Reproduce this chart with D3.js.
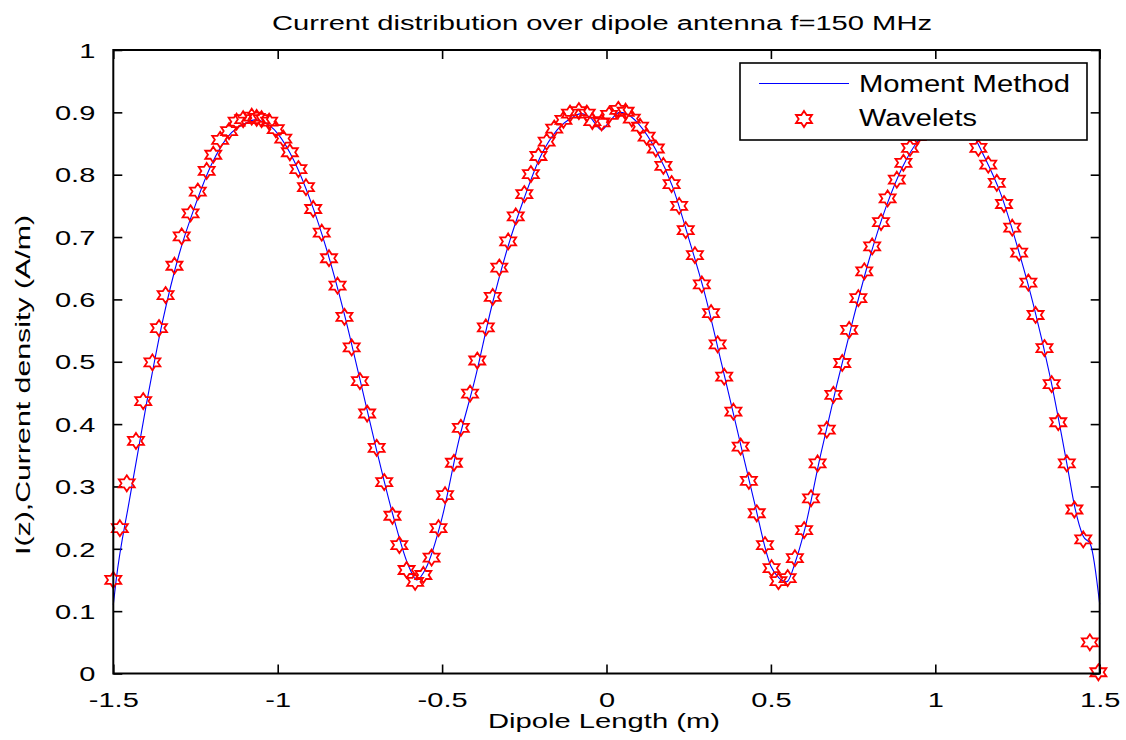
<!DOCTYPE html>
<html>
<head>
<meta charset="utf-8">
<script src="https://cdn.jsdelivr.net/npm/d3@7/dist/d3.min.js"></script>
<style>
  html, body { margin: 0; padding: 0; background: #ffffff; }
  svg { display: block; }
  text { font-family: "Liberation Sans", Arial, sans-serif; fill: #000; }
</style>
</head>
<body>
<svg id="chart" width="1126" height="740"></svg>
<script>
// ---- Data ----
const titleText = "Current distribution over dipole antenna f=150 MHz";
const xLabelText = "Dipole Length (m)";
const yLabelText = "I(z),Current density (A/m)";
const seriesNames = ["Moment Method", "Wavelets"];

const xTicks = [-1.5, -1, -0.5, 0, 0.5, 1, 1.5];
const xTickLabels = ["-1.5", "-1", "-0.5", "0", "0.5", "1", "1.5"];
const yTicks = [0, 0.1, 0.2, 0.3, 0.4, 0.5, 0.6, 0.7, 0.8, 0.9, 1];
const yTickLabels = ["0", "0.1", "0.2", "0.3", "0.4", "0.5", "0.6", "0.7", "0.8", "0.9", "1"];

// Moment Method (blue line)
const momX = [-1.500, -1.492, -1.451, -1.400, -1.350, -1.300, -1.250, -1.200, -1.150, -1.100,
  -1.070, -1.050, -1.000, -0.950, -0.900, -0.850, -0.800, -0.750, -0.700, -0.650,
  -0.600, -0.577, -0.550, -0.500, -0.450, -0.400, -0.350, -0.300, -0.250, -0.200,
  -0.150, -0.100, -0.078, -0.050, -0.015, 0.010, 0.040, 0.075, 0.100, 0.150,
  0.200, 0.250, 0.300, 0.350, 0.400, 0.450, 0.500, 0.525, 0.548, 0.575,
  0.600, 0.650, 0.700, 0.750, 0.800, 0.850, 0.900, 0.950, 1.000, 1.050,
  1.075, 1.100, 1.150, 1.200, 1.250, 1.300, 1.350, 1.400, 1.425, 1.450,
  1.472, 1.500];
const momY = [0.110, 0.147, 0.278, 0.430, 0.565, 0.672, 0.752, 0.818, 0.862, 0.882,
  0.888, 0.886, 0.866, 0.822, 0.758, 0.678, 0.582, 0.472, 0.360, 0.255,
  0.170, 0.150, 0.168, 0.250, 0.372, 0.472, 0.587, 0.684, 0.763, 0.830,
  0.872, 0.893, 0.898, 0.892, 0.872, 0.886, 0.900, 0.893, 0.880, 0.840,
  0.782, 0.698, 0.607, 0.497, 0.385, 0.274, 0.172, 0.153, 0.147, 0.180,
  0.225, 0.348, 0.462, 0.568, 0.666, 0.748, 0.812, 0.856, 0.880, 0.888,
  0.887, 0.876, 0.828, 0.768, 0.684, 0.588, 0.474, 0.337, 0.265, 0.220,
  0.207, 0.111];

// Wavelets (red hexagram markers)
const waveX = [-1.500, -1.480, -1.459, -1.431, -1.409, -1.381, -1.361, -1.341, -1.314, -1.292,
  -1.265, -1.243, -1.216, -1.196, -1.175, -1.148, -1.125, -1.105, -1.079, -1.064,
  -1.049, -1.026, -1.006, -0.983, -0.963, -0.937, -0.914, -0.892, -0.866, -0.844,
  -0.818, -0.797, -0.775, -0.750, -0.728, -0.699, -0.676, -0.651, -0.630, -0.608,
  -0.582, -0.557, -0.532, -0.511, -0.491, -0.464, -0.443, -0.415, -0.393, -0.367,
  -0.346, -0.326, -0.299, -0.276, -0.250, -0.230, -0.207, -0.182, -0.159, -0.131,
  -0.111, -0.084, -0.060, -0.043, -0.015, 0.008, 0.036, 0.058, 0.077, 0.102,
  0.122, 0.150, 0.173, 0.198, 0.221, 0.241, 0.269, 0.290, 0.318, 0.338,
  0.358, 0.386, 0.408, 0.433, 0.457, 0.482, 0.502, 0.523, 0.551, 0.573,
  0.601, 0.622, 0.642, 0.670, 0.690, 0.717, 0.738, 0.766, 0.784, 0.808,
  0.835, 0.855, 0.883, 0.903, 0.923, 0.946, 0.969, 0.992, 1.015, 1.038,
  1.061, 1.084, 1.107, 1.131, 1.161, 1.187, 1.209, 1.234, 1.255, 1.283,
  1.305, 1.332, 1.354, 1.374, 1.400, 1.423, 1.450, 1.470, 1.496];
const waveY = [0.150, 0.233, 0.305, 0.373, 0.437, 0.499, 0.554, 0.607, 0.654, 0.701,
  0.738, 0.773, 0.806, 0.832, 0.856, 0.870, 0.885, 0.889, 0.893, 0.891,
  0.889, 0.885, 0.873, 0.858, 0.836, 0.809, 0.780, 0.745, 0.707, 0.666,
  0.622, 0.572, 0.523, 0.469, 0.417, 0.362, 0.307, 0.253, 0.206, 0.166,
  0.147, 0.158, 0.186, 0.233, 0.286, 0.338, 0.394, 0.449, 0.502, 0.555,
  0.604, 0.651, 0.693, 0.733, 0.769, 0.801, 0.830, 0.853, 0.874, 0.888,
  0.898, 0.902, 0.898, 0.886, 0.884, 0.896, 0.904, 0.901, 0.890, 0.877,
  0.861, 0.842, 0.814, 0.785, 0.750, 0.711, 0.671, 0.624, 0.578, 0.528,
  0.476, 0.420, 0.364, 0.309, 0.257, 0.206, 0.169, 0.148, 0.153, 0.185,
  0.230, 0.281, 0.337, 0.391, 0.447, 0.498, 0.551, 0.602, 0.645, 0.685,
  0.724, 0.762, 0.792, 0.819, 0.843, 0.862, 0.876, 0.886, 0.891, 0.894,
  0.893, 0.889, 0.880, 0.843, 0.816, 0.787, 0.753, 0.715, 0.675, 0.627,
  0.575, 0.522, 0.464, 0.403, 0.337, 0.263, 0.215, 0.050, 0.002];

// ---- Layout ----
const svg = d3.select("#chart");
const plot = { left: 113.3, right: 1099.7, top: 50, bottom: 673.5 };

const x = d3.scaleLinear().domain([-1.5, 1.5]).range([plot.left, plot.right]);
const y = d3.scaleLinear().domain([0, 1]).range([plot.bottom, plot.top]);

// white background
svg.append("rect").attr("x", 0).attr("y", 0).attr("width", 1126).attr("height", 740).attr("fill", "#fff");

// stretch helper: keep font height, widen text along its direction
function stretch(sel, factor) {
  sel.each(function () {
    const w = this.getComputedTextLength();
    d3.select(this).attr("textLength", w * factor).attr("lengthAdjust", "spacingAndGlyphs");
  });
}
function fitWidth(sel, width) {
  sel.attr("textLength", width).attr("lengthAdjust", "spacingAndGlyphs");
}

// ---- Axes (MATLAB style: box, inward ticks on all sides) ----
const tickLen = 9;
const fmtX = (d) => xTickLabels[xTicks.indexOf(d)];
const fmtY = (d) => yTickLabels[yTicks.indexOf(d)];

const gBottom = svg.append("g").attr("transform", `translate(0,${plot.bottom})`)
  .call(d3.axisBottom(x).tickValues(xTicks).tickFormat(fmtX).tickSizeInner(-tickLen).tickSizeOuter(0).tickPadding(19));
const gTop = svg.append("g").attr("transform", `translate(0,${plot.top})`)
  .call(d3.axisTop(x).tickValues(xTicks).tickFormat("").tickSizeInner(-tickLen).tickSizeOuter(0));
const gLeft = svg.append("g").attr("transform", `translate(${plot.left},0)`)
  .call(d3.axisLeft(y).tickValues(yTicks).tickFormat(fmtY).tickSizeInner(-tickLen).tickSizeOuter(0).tickPadding(18));
const gRight = svg.append("g").attr("transform", `translate(${plot.right},0)`)
  .call(d3.axisRight(y).tickValues(yTicks).tickFormat("").tickSizeInner(-tickLen).tickSizeOuter(0));

[gBottom, gTop, gLeft, gRight].forEach(g => {
  g.select(".domain").remove();
  g.selectAll(".tick line").attr("stroke", "#000").attr("stroke-width", 1.6);
  g.selectAll("text").attr("font-family", "Liberation Sans, Arial, sans-serif").attr("font-size", 20).attr("fill", "#000");
});
gBottom.selectAll(".tick text").attr("dy", "0.71em");
gLeft.selectAll(".tick text").attr("dy", "0.36em");
stretch(gBottom.selectAll(".tick text"), 1.45);
stretch(gLeft.selectAll(".tick text"), 1.45);

// ---- Moment Method line ----
const line = d3.line().x((d, i) => x(momX[i])).y((d, i) => y(momY[i])).curve(d3.curveMonotoneX);
svg.append("path")
  .attr("d", line(momX))
  .attr("fill", "none")
  .attr("stroke", "#0000ff")
  .attr("stroke-width", 1.1);

// ---- Hexagram markers ----
function hexagram(R, sx) {
  const r = R / Math.sqrt(3);
  const pts = [];
  for (let k = 0; k < 12; k++) {
    const a = (-90 + 30 * k) * Math.PI / 180;
    const rad = (k % 2 === 0) ? R : r;
    pts.push([Math.cos(a) * rad * sx, Math.sin(a) * rad]);
  }
  return "M" + pts.map(p => p[0].toFixed(2) + "," + p[1].toFixed(2)).join("L") + "Z";
}
const starPath = hexagram(8, 1.15);

svg.append("g").selectAll("path")
  .data(waveX)
  .join("path")
  .attr("d", starPath)
  .attr("transform", (d, i) => `translate(${x(waveX[i])},${y(waveY[i])})`)
  .attr("fill", "none")
  .attr("stroke", "#ff0000")
  .attr("stroke-width", 1.8)
  .attr("stroke-linejoin", "miter");

// ---- Axis box ----
svg.append("rect")
  .attr("x", plot.left).attr("y", plot.top)
  .attr("width", plot.right - plot.left).attr("height", plot.bottom - plot.top)
  .attr("fill", "none").attr("stroke", "#000").attr("stroke-width", 2);

// ---- Legend ----
const lg = svg.append("g");
lg.append("rect").attr("x", 740).attr("y", 63).attr("width", 347).attr("height", 77)
  .attr("fill", "#fff").attr("stroke", "#000").attr("stroke-width", 1.6);
lg.append("line").attr("x1", 759).attr("x2", 849).attr("y1", 83.5).attr("y2", 83.5)
  .attr("stroke", "#0000ff").attr("stroke-width", 1.1);
lg.append("path").attr("d", starPath).attr("transform", "translate(804,119)")
  .attr("fill", "none").attr("stroke", "#ff0000").attr("stroke-width", 1.8);
const lt1 = lg.append("text").attr("x", 859).attr("y", 92).attr("font-size", 23).text(seriesNames[0]);
const lt2 = lg.append("text").attr("x", 859).attr("y", 126).attr("font-size", 23).text(seriesNames[1]);
fitWidth(lt1, 211);
fitWidth(lt2, 118);

// ---- Title and axis labels ----
const t = svg.append("text").attr("x", 602).attr("y", 30).attr("text-anchor", "middle")
  .attr("font-size", 20).text(titleText);
fitWidth(t, 660);

const xl = svg.append("text").attr("x", 604).attr("y", 728).attr("text-anchor", "middle")
  .attr("font-size", 20).text(xLabelText);
fitWidth(xl, 232);

const yl = svg.append("text").attr("transform", "translate(30,385) rotate(-90)").attr("text-anchor", "middle")
  .attr("font-size", 20).text(yLabelText);
fitWidth(yl, 340);
</script>
</body>
</html>
